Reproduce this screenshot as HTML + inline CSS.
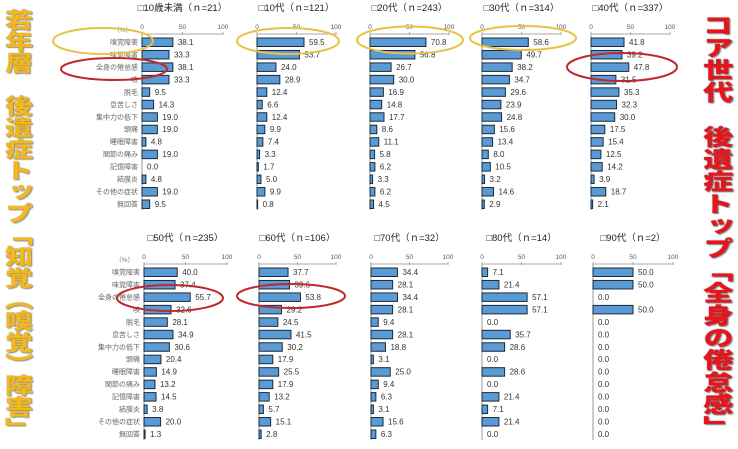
<!DOCTYPE html><html><head><meta charset="utf-8"><style>
html,body{margin:0;background:#fff;width:738px;height:449px;overflow:hidden;}
body{position:relative;font-family:"Liberation Sans","Noto Sans CJK JP",sans-serif}
.v{position:absolute;font-family:"Noto Sans CJK JP",sans-serif;font-weight:900;writing-mode:vertical-rl;text-orientation:upright;white-space:nowrap;line-height:1;transform-origin:center top}
</style></head><body>
<div class="v" style="left:8px;top:9px;color:#f2b81c;text-shadow:0 0 1px #777,1px 1px 1px #999;font-size:21.5px;letter-spacing:0;transform:scaleX(1.3)">若年層　後遺症トップ「知覚（嗅覚）障害」</div>
<div class="v" style="left:707px;top:14px;color:#e8141c;text-shadow:0 0 1px #555,1px 1px 1px #888;font-size:22.3px;letter-spacing:0;transform:scaleX(1.35)">コア世代　後遺症トップ「全身の倦怠感」</div>
<svg id="s" width="738" height="449" style="position:absolute;left:0;top:0"></svg>
<script>
var cats=["嗅覚障害","味覚障害","全身の倦怠感","咳","脱毛","息苦しさ","集中力の低下","頭痛","睡眠障害","関節の痛み","記憶障害","結膜炎","その他の症状","無回答"];
var P=[
["□10歳未満（ｎ=21）",142,0,.81,[38.1,33.3,38.1,33.3,9.5,14.3,19.0,19.0,4.8,19.0,0.0,4.8,19.0,9.5]],
["□10代（ｎ=121）",257,0,.79,[59.5,53.7,24.0,28.9,12.4,6.6,12.4,9.9,7.4,3.3,1.7,5.0,9.9,0.8]],
["□20代（ｎ=243）",370,0,.79,[70.8,56.8,26.7,30.0,16.9,14.8,17.7,8.6,11.1,5.8,6.2,3.3,6.2,4.5]],
["□30代（ｎ=314）",482,0,.79,[58.6,49.7,38.2,34.7,29.6,23.9,24.8,15.6,13.4,8.0,10.5,3.2,14.6,2.9]],
["□40代（ｎ=337）",591,0,.79,[41.8,39.2,47.8,31.5,35.3,32.3,30.0,17.5,15.4,12.5,14.2,3.9,18.7,2.1]],
["□50代（ｎ=235）",144,1,.83,[40.0,37.4,55.7,32.6,28.1,34.9,30.6,20.4,14.9,13.2,14.5,3.8,20.0,1.3]],
["□60代（ｎ=106）",259,1,.77,[37.7,39.6,53.8,29.2,24.5,41.5,30.2,17.9,25.5,17.9,13.2,5.7,15.1,2.8]],
["□70代（ｎ=32）",371,1,.77,[34.4,28.1,34.4,28.1,9.4,28.1,18.8,3.1,25.0,9.4,6.3,3.1,15.6,6.3]],
["□80代（ｎ=14）",482,1,.79,[7.1,21.4,57.1,57.1,0,35.7,28.6,0,28.6,0,21.4,7.1,21.4,0]],
["□90代（ｎ=2）",593,1,.8,[50,50,0,50,0,0,0,0,0,0,0,0,0,0]]];
var h='';
P.forEach(function(p,i){var x0=p[1],oy=p[2]?230:0,k=p[3];
var w=100*k;
h+='<text x="'+(x0+w/2)+'" y="'+(oy+11)+'" font-size="9.5" fill="#222" text-anchor="middle">'+p[0]+'</text>';
h+='<line x1="'+x0+'" y1="'+(oy+34)+'" x2="'+(x0+w)+'" y2="'+(oy+34)+'" stroke="#aaa" stroke-width="1"/>';
[0,50,100].forEach(function(t){h+='<text x="'+(x0+t*k)+'" y="'+(oy+29)+'" font-size="6.5" fill="#555" text-anchor="middle">'+t+'</text><line x1="'+(x0+t*k)+'" y1="'+(oy+32)+'" x2="'+(x0+t*k)+'" y2="'+(oy+35)+'" stroke="#aaa"/>';});
h+='<line x1="'+x0+'" y1="'+(oy+34)+'" x2="'+x0+'" y2="'+(oy+210)+'" stroke="#999"/>';
if(i%5==0)h+='<text x="'+(x0-10)+'" y="'+(oy+32)+'" font-size="6.5" fill="#777" text-anchor="end">（%）</text>';
p[4].forEach(function(v,j){var cy=oy+42+j*12.46;var bw=v*k;
if(bw>0)h+='<rect x="'+x0+'" y="'+(cy-4)+'" width="'+bw+'" height="8.5" fill="#5b9bd5" stroke="#1a2a3a" stroke-width="1"/>';
h+='<text x="'+(x0+bw+5)+'" y="'+(cy+3)+'" font-size="8" fill="#333">'+v.toFixed(1)+'</text>';
if(i%5==0)h+='<text x="'+(x0-4)+'" y="'+(cy+2.5)+'" font-size="7" fill="#666" text-anchor="end">'+cats[j]+'</text>';
});});
function el(cx,cy,rx,ry,c){h+='<ellipse cx="'+cx+'" cy="'+cy+'" rx="'+rx+'" ry="'+ry+'" fill="none" stroke="'+c+'" stroke-width="2"/>';}
var Y="#e8c240",R="#c0282c";
el(103,41,50,13,Y);el(288,41,51,13,Y);el(410,40,53,13.5,Y);el(523,38,53,12,Y);
el(114,69,53,11,R);el(622,67,55,14,R);el(170,298,53,13,R);el(291,296,54,12,R);
document.getElementById('s').innerHTML=h;
</script></body></html>
